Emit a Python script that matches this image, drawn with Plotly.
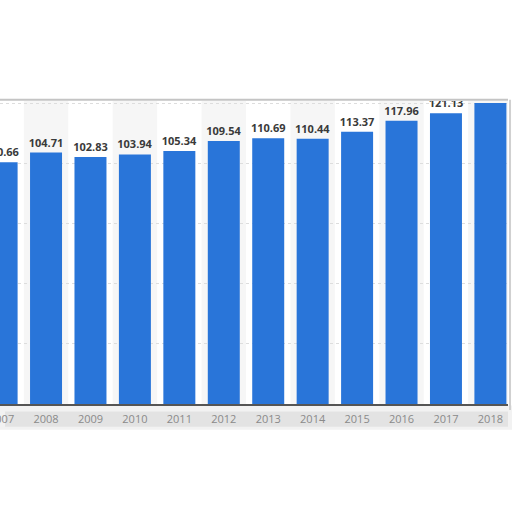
import plotly.graph_objects as go

years = ["2007", "2008", "2009", "2010", "2011", "2012",
         "2013", "2014", "2015", "2016", "2017", "2018"]
values = [100.66, 104.71, 102.83, 103.94, 105.34, 109.54,
          110.69, 110.44, 113.37, 117.96, 121.13, 125.4]

bar_color = "#2975d9"

fig = go.Figure()
fig.add_trace(go.Bar(
    x=years, y=values,
    marker=dict(color=bar_color, line=dict(width=0)),
    texttemplate="%{y:.2f}",
    textposition="outside",
    textfont=dict(family="Open Sans", size=11, color="#3a3a3a", weight="bold"),
    cliponaxis=True,
    constraintext="none",
))

# alternating column bands behind the bars
shapes = []
for i in range(len(years)):
    if i % 2 == 1:
        shapes.append(dict(type="rect", xref="x", yref="paper",
                           x0=i - 0.5, x1=i + 0.5, y0=0, y1=1,
                           fillcolor="#f6f6f6", line=dict(width=0), layer="below"))

# torn paper edges / shadows
shapes += [
    dict(type="line", xref="paper", yref="paper", x0=0, x1=1, y0=1.004, y1=1.004,
         line=dict(color="#c4c4c4", width=2)),
    dict(type="line", xref="paper", yref="paper", x0=1.004, x1=1.004, y0=-0.02, y1=1.004,
         line=dict(color="#d0d0d0", width=2)),
    dict(type="rect", xref="paper", yref="paper", x0=0, x1=1.008, y0=-0.005, y1=-0.085,
         fillcolor="#b8b8b8", opacity=0.18, line=dict(width=0), layer="below"),
    dict(type="rect", xref="paper", yref="paper", x0=0.01, x1=1.0, y0=-0.025, y1=-0.075,
         fillcolor="#a8a8a8", opacity=0.2, line=dict(width=0), layer="below"),
]

fig.update_layout(
    width=512, height=512,
    margin=dict(l=0, r=4, t=101, b=108, autoexpand=False),
    paper_bgcolor="white",
    plot_bgcolor="white",
    showlegend=False,
    bargap=0.28,
    shapes=shapes,
    xaxis=dict(
        range=[-0.036, 11.396],
        automargin=False,
        showline=True, linecolor="#555555", linewidth=1.5,
        showgrid=False, ticks="",
        ticklabelstandoff=4,
        tickfont=dict(family="Open Sans", size=11, color="#8a8a8a"),
    ),
    yaxis=dict(
        range=[0, 126.2],
        dtick=25,
        automargin=False,
        showticklabels=False,
        showgrid=True, gridcolor="#dddddd", griddash="dot", gridwidth=1,
        zeroline=False,
    ),
)

# page has a default 8px body margin, drop it so the figure sits at 0,0
fig.write_html("out.html", config={"displayModeBar": False},
               post_script="document.body.style.margin='0';document.body.style.overflow='hidden';")
